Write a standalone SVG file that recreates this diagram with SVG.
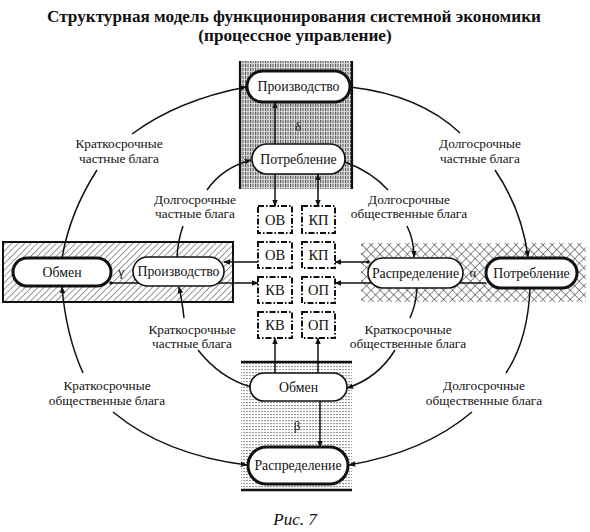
<svg xmlns="http://www.w3.org/2000/svg" width="590" height="532" viewBox="0 0 590 532">
<style>
.t{font-family:"Liberation Serif","Times New Roman",serif;fill:#111}
.title{font-size:17.2px;font-weight:bold;text-anchor:middle}
.nt{font-size:13.8px;text-anchor:middle}
.lb{font-size:13.3px;text-anchor:middle}
.bx{font-size:14.5px;text-anchor:middle}
.gr{font-size:13px;text-anchor:middle}
.pill{fill:#fff;stroke:#111}
.thick{stroke-width:3}
.thin{stroke-width:1.6}
.box{fill:#fff;stroke:#111;stroke-width:2;stroke-dasharray:6 2 1.5 2}
.c{fill:none;stroke:#111;stroke-width:1.5}
.a{marker-end:url(#ah)}
.edge{stroke:#111;stroke-width:2.2}
</style>
<defs>
<marker id="ah" viewBox="0 0 10 10" refX="9" refY="5" markerWidth="7" markerHeight="7" markerUnits="userSpaceOnUse" orient="auto-start-reverse"><path d="M0,1 L10,5 L0,9 z" fill="#111"/></marker>
<marker id="dot" viewBox="0 0 6 6" refX="3" refY="3" markerWidth="3.5" markerHeight="3.5" markerUnits="userSpaceOnUse"><circle cx="3" cy="3" r="3" fill="#111"/></marker>
<pattern id="pv" width="2.5" height="4" patternUnits="userSpaceOnUse"><rect width="2.5" height="4" fill="#e0e0e0"/><rect width="1.1" height="3.2" fill="#555"/></pattern>
<pattern id="pd" width="3" height="3" patternUnits="userSpaceOnUse"><rect width="3" height="3" fill="#fff"/><rect width="2" height="1.1" fill="#999"/></pattern>
<pattern id="ph" width="4.5" height="4.5" patternUnits="userSpaceOnUse" patternTransform="rotate(45)"><rect width="4.5" height="4.5" fill="#fff"/><line x1="0" y1="0" x2="0" y2="4.5" stroke="#333" stroke-width="1"/></pattern>
<pattern id="px" width="6.4" height="6.4" patternUnits="userSpaceOnUse" patternTransform="rotate(45)"><rect width="6.4" height="6.4" fill="#fff"/><line x1="0" y1="0" x2="0" y2="6.4" stroke="#222" stroke-width="1"/><line x1="0" y1="0" x2="6.4" y2="0" stroke="#222" stroke-width="1"/></pattern>
</defs>

<g id="title">
<text class="t title" x="294" y="22">Структурная модель функционирования системной экономики</text>
<text class="t title" x="295" y="41">(процессное управление)</text>
</g>

<g id="bands">
<rect x="240" y="61" width="112" height="128" fill="url(#pv)"/>
<line class="edge" x1="240" y1="61" x2="240" y2="189"/>
<line class="edge" x1="352" y1="61" x2="352" y2="189"/>
<rect x="241" y="362" width="111" height="128" fill="url(#pd)"/>
<line class="edge" x1="241" y1="362" x2="352" y2="362" style="stroke-width:2.5"/>
<line class="edge" x1="241" y1="490" x2="352" y2="490" style="stroke-width:2.5"/>
<rect x="3" y="242" width="230" height="60" fill="url(#ph)" stroke="#111" stroke-width="2"/>
<rect x="361" y="243" width="225" height="59" fill="url(#px)"/>
</g>

<g id="connectors">
<path class="c a" d="M132 134 Q178 100 246 87"/>
<path class="c" d="M97 170 Q70 212 62 258"/>
<path class="c a" d="M83 373 Q66 335 62 287"/>
<path class="c a" d="M113 412 Q165 455 247 465"/>
<path class="c" d="M350 87 Q420 95 460 133"/>
<path class="c a" d="M495 170 Q522 210 528 257"/>
<path class="c" d="M530 288 Q528 340 506 373"/>
<path class="c a" d="M472 412 Q425 452 349 465"/>
<path class="c a" d="M207 190 Q222 168 251 160"/>
<path class="c" d="M183 226 Q178 240 177 257"/>
<path class="c" d="M345 162 Q372 172 388 190"/>
<path class="c a" d="M407 226 Q414 240 414 257"/>
<path class="c a" d="M184 318 Q182 300 179 287"/>
<path class="c" d="M198 350 Q220 378 251 387"/>
<path class="c" d="M417 288 Q416 305 410 318"/>
<path class="c a" d="M395 350 Q378 378 347 388"/>
<path class="c a" d="M275 144 L275 102"/>
<path class="c a" d="M275 174 L275 206"/>
<path class="c a" d="M318 174 L318 206" style="marker-start:url(#ah)"/>
<path class="c a" d="M258 262 L224 262"/>
<path class="c a" d="M111 283 L258 283" style="marker-start:url(#dot)"/>
<path class="c a" d="M368 262 L335 262" style="marker-start:url(#dot)"/>
<path class="c a" d="M486 283 L335 283"/>
<path class="c a" d="M275 373 L275 338"/>
<path class="c a" d="M318 373 L318 338"/>
<path class="c a" d="M320 401 L320 447"/>
</g>

<g id="n-proizv-top"><rect class="pill thick" x="247" y="71" width="103" height="31" rx="15.5"/><text class="t nt" x="298.5" y="91">Производство</text></g>
<g id="n-potreb-top"><rect class="pill thin" x="252" y="144" width="93" height="30" rx="15"/><text class="t nt" x="298.5" y="163.5">Потребление</text></g>
<g id="n-obmen-left"><rect class="pill thick" x="13" y="258" width="98" height="28" rx="14"/><text class="t nt" x="62" y="276.5">Обмен</text></g>
<g id="n-proizv-left"><rect class="pill thin" x="133" y="257" width="91" height="29" rx="14.5"/><text class="t nt" x="178.5" y="276">Производство</text></g>
<g id="n-raspr-right"><rect class="pill thin" x="368" y="258" width="95" height="30" rx="15"/><text class="t nt" x="415.5" y="277.5">Распределение</text></g>
<g id="n-potreb-right"><rect class="pill thick" x="486" y="258" width="91" height="30" rx="15"/><text class="t nt" x="531.5" y="277.5">Потребление</text></g>
<g id="n-obmen-bottom"><rect class="pill thin" x="250" y="373" width="97" height="28" rx="14"/><text class="t nt" x="298.5" y="391.5">Обмен</text></g>
<g id="n-raspr-bottom"><rect class="pill thick" x="248" y="447" width="100" height="37" rx="18.5"/><text class="t nt" x="298" y="470">Распределение</text></g>

<g id="b-ov1"><rect class="box" x="258" y="206" width="34" height="27"/><text class="t bx" x="275" y="224.5">ОВ</text></g>
<g id="b-kp1"><rect class="box" x="302" y="206" width="33" height="27"/><text class="t bx" x="318.5" y="224.5">КП</text></g>
<g id="b-ov2"><rect class="box" x="258" y="242" width="34" height="26"/><text class="t bx" x="275" y="260">ОВ</text></g>
<g id="b-kp2"><rect class="box" x="302" y="242" width="33" height="26"/><text class="t bx" x="318.5" y="260">КП</text></g>
<g id="b-kv3"><rect class="box" x="258" y="277" width="34" height="26"/><text class="t bx" x="275" y="295">КВ</text></g>
<g id="b-op3"><rect class="box" x="302" y="277" width="33" height="26"/><text class="t bx" x="318.5" y="295">ОП</text></g>
<g id="b-kv4"><rect class="box" x="258" y="312" width="34" height="26"/><text class="t bx" x="275" y="330">КВ</text></g>
<g id="b-op4"><rect class="box" x="302" y="312" width="33" height="26"/><text class="t bx" x="318.5" y="330">ОП</text></g>

<g id="labels">
<text class="t lb" x="119" y="148">Краткосрочные</text><text class="t lb" x="119" y="163">частные блага</text>
<text class="t lb" x="480" y="148">Долгосрочные</text><text class="t lb" x="480" y="163">частные блага</text>
<text class="t lb" x="195" y="204">Долгосрочные</text><text class="t lb" x="195" y="218">частные блага</text>
<text class="t lb" x="409" y="204">Долгосрочные</text><text class="t lb" x="409" y="218">общественные блага</text>
<text class="t lb" x="192" y="334">Краткосрочные</text><text class="t lb" x="192" y="348">частные блага</text>
<text class="t lb" x="408" y="334">Краткосрочные</text><text class="t lb" x="408" y="348">общественные блага</text>
<text class="t lb" x="107" y="390">Краткосрочные</text><text class="t lb" x="107" y="405">общественные блага</text>
<text class="t lb" x="484" y="390">Долгосрочные</text><text class="t lb" x="484" y="405">общественные блага</text>
<text class="t gr" x="298" y="131">δ</text>
<text class="t gr" x="297" y="430">β</text>
<text class="t gr" x="121" y="276">γ</text>
<text class="t gr" x="473" y="277">α</text>
</g>

<text class="t" x="295" y="525" style="font-size:17px;font-style:italic;text-anchor:middle">Рис. 7</text>
</svg>
